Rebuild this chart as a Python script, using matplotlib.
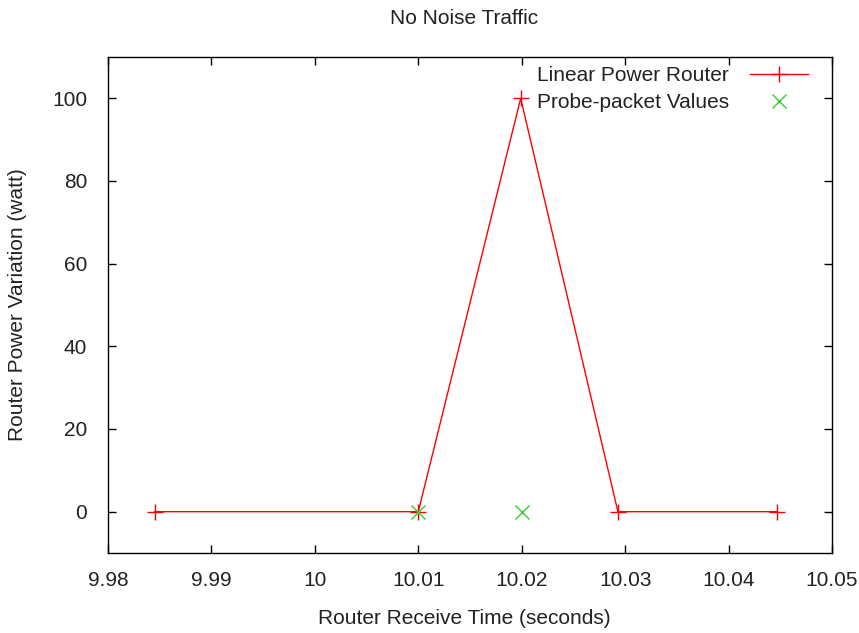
import matplotlib
matplotlib.use("Agg")
import matplotlib.pyplot as plt

# router power trace
router_time = [9.9845, 10.01, 10.0199, 10.0293, 10.0447]
router_power = [0, 0, 100, 0, 0]

# probe packets
probe_time = [10.01, 10.02]
probe_power = [0, 0]

x_ticks = [9.98, 9.99, 10.0, 10.01, 10.02, 10.03, 10.04, 10.05]
x_tick_labels = ["9.98", "9.99", "10", "10.01", "10.02", "10.03", "10.04", "10.05"]
y_ticks = [0, 20, 40, 60, 80, 100]

W, H = 859, 633
FS = 15
TXT = '#222222'

plt.rcParams['font.family'] = ['Liberation Sans', 'DejaVu Sans']
plt.rcParams['font.size'] = FS

fig = plt.figure(figsize=(W / 100, H / 100), dpi=100)
ax = fig.add_axes([108 / W, 1 - 553 / H, (832 - 108) / W, (553 - 57) / H])

ax.plot(router_time, router_power, color='red', lw=1.0, marker='+',
        markersize=11, markeredgewidth=1.0, label='Linear Power Router')
ax.plot(probe_time, probe_power, color='#33cc33', lw=0, marker='x',
        markersize=10, markeredgewidth=1.0, label='Probe-packet Values')

ax.set_xlim(9.98, 10.05)
ax.set_ylim(-10, 110)
ax.set_xticks(x_ticks)
ax.set_xticklabels(x_tick_labels)
ax.set_yticks(y_ticks)
ax.tick_params(direction='in', length=6, width=1, top=True, right=True,
               labelsize=FS, labelcolor=TXT)
ax.tick_params(axis='x', pad=13)
ax.tick_params(axis='y', pad=15)
for s in ax.spines.values():
    s.set_linewidth(1.0)

# titles placed in figure pixels
fig.text(464.5 / W, 1 - 18 / H, "No Noise Traffic", ha='center', va='center',
         fontsize=FS, color=TXT)
fig.text(464.5 / W, 1 - 619 / H, "Router Receive Time (seconds)", ha='center',
         va='center', fontsize=FS, color=TXT)
fig.text(18 / W, 1 - 305 / H, "Router Power Variation (watt)", ha='center',
         va='center', rotation=90, fontsize=FS, color=TXT)

leg = ax.legend(loc='upper right', frameon=False, markerfirst=False,
                fontsize=FS, handlelength=2.8, handletextpad=1.0,
                borderpad=0, borderaxespad=0, labelspacing=0.4,
                bbox_to_anchor=(808 / W, 1 - 66 / H),
                bbox_transform=fig.transFigure)
for t in leg.get_texts():
    t.set_ha('right')
    t.set_color(TXT)

fig.savefig("out.png", dpi=100)
